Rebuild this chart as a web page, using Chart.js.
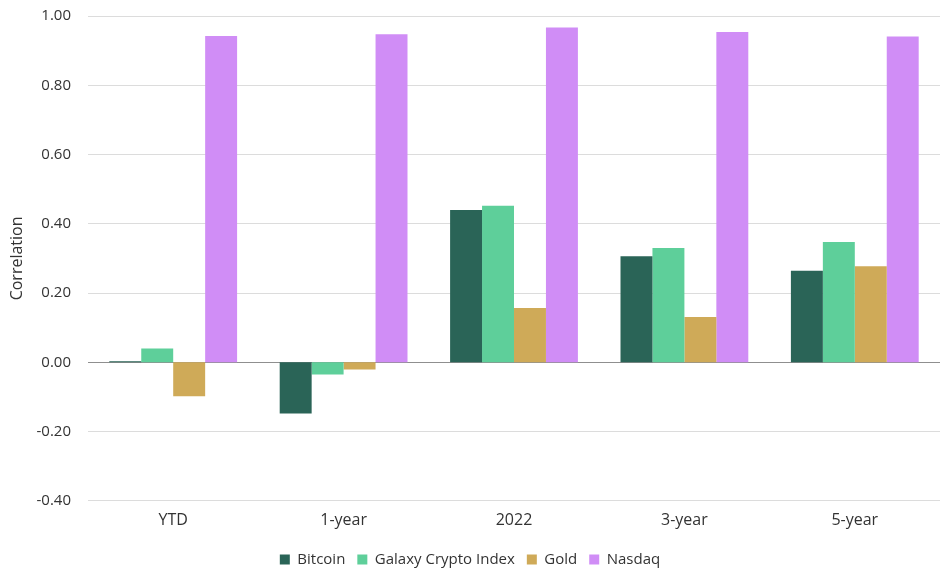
<!DOCTYPE html>
<html>
<head>
<meta charset="utf-8">
<script src="https://cdn.jsdelivr.net/npm/chart.js@4/dist/chart.umd.min.js"></script>
<style>
  html, body { margin: 0; padding: 0; background: #fff; }
  #wrap { width: 940px; height: 572px; position: relative; }
</style>
</head>
<body>
<div id="wrap"><canvas id="c"></canvas></div>
<script>
// Correlation periods
const periods = ["YTD", "1-year", "2022", "3-year", "5-year"];

// Correlation of each asset per period
const bitcoin = [0.003, -0.148, 0.440, 0.306, 0.264];
const galaxyCryptoIndex = [0.040, -0.035, 0.452, 0.330, 0.347];
const gold = [-0.098, -0.021, 0.157, 0.131, 0.277];
const nasdaq = [0.942, 0.947, 0.967, 0.954, 0.941];

const seriesNames = ["Bitcoin", "Galaxy Crypto Index", "Gold", "Nasdaq"];
const seriesColors = ["#2a6457", "#5ecf9a", "#cfaa58", "#d08df6"];
const seriesValues = [bitcoin, galaxyCryptoIndex, gold, nasdaq];

const fontFamily = "'Open Sans', 'Noto Sans', sans-serif";

new Chart(document.getElementById("c"), {
  type: "bar",
  data: {
    labels: periods,
    datasets: seriesNames.map((name, i) => ({
      label: name,
      data: seriesValues[i],
      backgroundColor: seriesColors[i],
      borderWidth: 0,
      categoryPercentage: 0.75,
      barPercentage: 1.0
    }))
  },
  options: {
    responsive: true,
    maintainAspectRatio: false,
    animation: false,
    layout: { padding: { top: 16, right: 0, left: 0, bottom: -5 } },
    scales: {
      x: {
        grid: { display: false, drawTicks: false },
        border: { display: false },
        ticks: { color: "#333", font: { family: fontFamily, size: 16 }, padding: 10 }
      },
      y: {
        min: -0.4,
        max: 1.0,
        afterFit: scale => {
          scale.width = 88;
          scale.paddingTop = 0;
        },
        ticks: {
          stepSize: 0.2,
          color: "#333",
          padding: 17,
          font: { family: fontFamily, size: 15 },
          callback: v => (Math.abs(v) < 1e-9 ? 0 : v).toFixed(2)
        },
        grid: {
          drawTicks: false,
          lineWidth: 1,
          color: ctx => (Math.abs(ctx.tick.value) < 1e-9 ? "#8f8f8f" : "#dcdcdc")
        },
        border: { display: false },
        title: {
          display: true,
          text: "Correlation",
          color: "#333",
          font: { family: fontFamily, size: 16 },
          padding: { top: 8, bottom: 0 }
        }
      }
    },
    plugins: {
      legend: {
        position: "bottom",
        labels: {
          color: "#333",
          boxWidth: 10,
          boxHeight: 10,
          padding: 12,
          font: { family: fontFamily, size: 15 }
        }
      },
      tooltip: { enabled: false }
    }
  }
});
</script>
</body>
</html>
